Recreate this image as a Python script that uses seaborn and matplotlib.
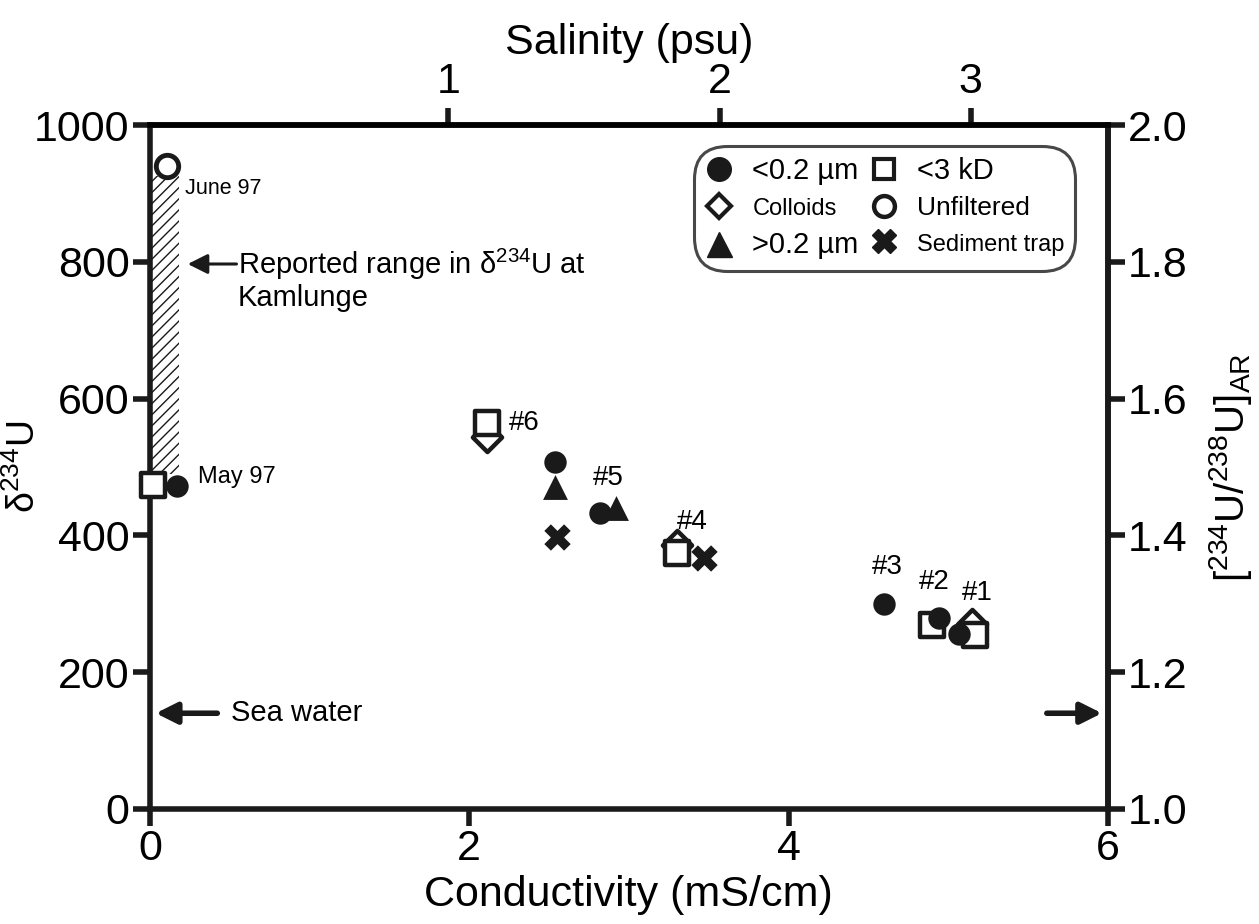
import matplotlib
matplotlib.use("Agg")
import matplotlib.pyplot as plt
import seaborn as sns
import numpy as np
import pandas as pd
from matplotlib.lines import Line2D
from matplotlib.patches import Rectangle

sns.set_theme(style="white")
plt.rcParams['font.family'] = ['Liberation Sans', 'DejaVu Sans']
plt.rcParams['mathtext.fontset'] = 'custom'
plt.rcParams['mathtext.rm'] = 'Liberation Sans'
plt.rcParams['mathtext.it'] = 'Liberation Sans:italic'
for k in ['text.color', 'axes.labelcolor', 'xtick.color', 'ytick.color', 'axes.edgecolor']:
    plt.rcParams[k] = 'black'

# ---- data (conductivity mS/cm, delta234U) ----
filt_x = [0.17, 2.54, 2.82, 4.60, 4.94, 5.07]
filt_y = [472, 508, 433, 300, 279, 256]
kd_x = [0.02, 2.11, 3.30, 4.90, 5.17]
kd_y = [474, 564, 375, 269, 254]
coll_x = [2.11, 3.30, 5.15]
coll_y = [544, 386, 270]
part_x = [2.54, 2.92]
part_y = [471, 440]
unf_x = [0.11]
unf_y = [940]
trap_x = [2.55, 3.47]
trap_y = [398, 367]

site_labels = ['#6', '#5', '#4', '#3', '#2', '#1']
site_lx = [2.25, 2.87, 3.40, 4.62, 4.91, 5.18]
site_ly = [564, 484, 420, 354, 332, 316]

range_lo, range_hi = 490, 925
seawater = 140
sal_ticks_c = [1.87, 3.57, 5.14]
sal_labels = ['1', '2', '3']

fig = plt.figure(figsize=(12.59, 9.24), dpi=100)
ax = fig.add_axes([0.119, 0.1245, 0.761, 0.740])

ax.add_patch(Rectangle((0, range_lo), 0.18, range_hi - range_lo, fill=False,
                       hatch='///', edgecolor='k', lw=0, zorder=1))

ms = 260
sns.scatterplot(x=filt_x, y=filt_y, marker='o', s=ms, color='k', edgecolor='k', linewidth=0, ax=ax, zorder=5, legend=False, clip_on=False)
sns.scatterplot(x=kd_x, y=kd_y, marker='s', s=ms + 60, facecolor='white', edgecolor='k', linewidth=3.2, ax=ax, zorder=4, legend=False, clip_on=False)
sns.scatterplot(x=coll_x, y=coll_y, marker='D', s=ms - 40, facecolor='white', edgecolor='k', linewidth=3.2, ax=ax, zorder=3, legend=False)
sns.scatterplot(x=part_x, y=part_y, marker='^', s=ms + 60, color='k', edgecolor='k', linewidth=0, ax=ax, zorder=5, legend=False)
sns.scatterplot(x=unf_x, y=unf_y, marker='o', s=ms, facecolor='white', edgecolor='k', linewidth=3.5, ax=ax, zorder=5, legend=False)
sns.scatterplot(x=trap_x, y=trap_y, marker='X', s=ms + 100, color='k', edgecolor='k', linewidth=0, ax=ax, zorder=5, legend=False)

for lab, lx, ly in zip(site_labels, site_lx, site_ly):
    ha = 'left' if lab == '#6' else 'center'
    ax.text(lx, ly, lab, fontsize=20, ha=ha, va='center')

ax.text(0.22, 908, 'June 97', fontsize=15.5, ha='left', va='center')
ax.text(0.30, 485, 'May 97', fontsize=17, ha='left', va='center')
ax.annotate('', xy=(0.22, 797), xytext=(0.56, 797),
            arrowprops=dict(arrowstyle='-|>', lw=2.2, color='k', mutation_scale=30))
ax.text(0.55, 797, 'Reported range in δ$^{234}$U at', fontsize=21, ha='left', va='center')
ax.text(0.55, 747, 'Kamlunge', fontsize=21, ha='left', va='center')

ax.annotate('', xy=(0.02, seawater), xytext=(0.44, seawater),
            arrowprops=dict(arrowstyle='-|>', lw=4, color='k', mutation_scale=32))
ax.text(0.51, seawater, 'Sea water', fontsize=21, ha='left', va='center')
ax.annotate('', xy=(5.98, seawater), xytext=(5.6, seawater),
            arrowprops=dict(arrowstyle='-|>', lw=4, color='k', mutation_scale=32))

ax.set_xlim(0, 6)
ax.set_ylim(0, 1000)
ax.set_xticks([0, 2, 4, 6])
ax.set_yticks([0, 200, 400, 600, 800, 1000])
ax.set_xlabel('Conductivity (mS/cm)', fontsize=31, labelpad=4)
ax.set_ylabel('δ$^{234}$U', fontsize=27)
ax.yaxis.set_label_coords(-0.112, 0.5)
for s in ax.spines.values():
    s.set_linewidth(4)
    s.set_color('k')
ax.tick_params(axis='both', direction='out', length=12.5, width=4, labelsize=31, pad=2,
               color='k', bottom=True, left=True)

sec = ax.secondary_yaxis('right', functions=(lambda d: 1 + d / 1000.0, lambda r: (r - 1) * 1000.0))
sec.set_yticks([1.0, 1.2, 1.4, 1.6, 1.8, 2.0])
sec.set_yticklabels(['1.0', '1.2', '1.4', '1.6', '1.8', '2.0'])
sec.tick_params(direction='out', length=12.5, width=4, labelsize=31, pad=2, color='k')
sec.spines['right'].set_linewidth(4)
sec.set_ylabel(r'$[^{234}\mathrm{U}/^{238}\mathrm{U}]_{\mathrm{AR}}$', fontsize=29, labelpad=14)

top = ax.twiny()
top.set_xlim(ax.get_xlim())
top.set_xticks(sal_ticks_c)
top.set_xticklabels(sal_labels)
top.tick_params(axis='x', direction='out', length=12.5, width=4, labelsize=31, pad=4, color='k', top=True)
top.set_xlabel('Salinity (psu)', fontsize=31, labelpad=6)
for s in top.spines.values():
    s.set_visible(False)
top.spines['top'].set_visible(True)
top.spines['top'].set_linewidth(4)

handles = [
    Line2D([], [], marker='o', ls='', color='k', markersize=17),
    Line2D([], [], marker='D', ls='', markerfacecolor='white', markeredgecolor='k', markeredgewidth=3, markersize=12),
    Line2D([], [], marker='^', ls='', color='k', markersize=18),
    Line2D([], [], marker='s', ls='', markerfacecolor='white', markeredgecolor='k', markeredgewidth=3, markersize=14),
    Line2D([], [], marker='o', ls='', markerfacecolor='white', markeredgecolor='k', markeredgewidth=3.2, markersize=15),
    Line2D([], [], marker='X', ls='', color='k', markersize=17),
]
labels = ['<0.2 µm', 'Colloids', '>0.2 µm', '<3 kD', 'Unfiltered', 'Sediment trap']
leg = ax.legend(handles, labels, ncol=2, loc='upper right', bbox_to_anchor=(0.966, 0.97),
                frameon=True, fancybox=True, fontsize=20, handlelength=1.0, handletextpad=0.7,
                columnspacing=0.4, labelspacing=0.4, borderpad=0.4, borderaxespad=0)
fr = leg.get_frame()
fr.set_edgecolor('k')
fr.set_linewidth(2.2)
fr.set_boxstyle('round,pad=0.0,rounding_size=1.2')
sizes = [21, 17, 21, 21, 19, 17]
for t, sz in zip(leg.get_texts(), sizes):
    t.set_fontsize(sz)

fig.savefig('out.png', dpi=100, facecolor='white')
